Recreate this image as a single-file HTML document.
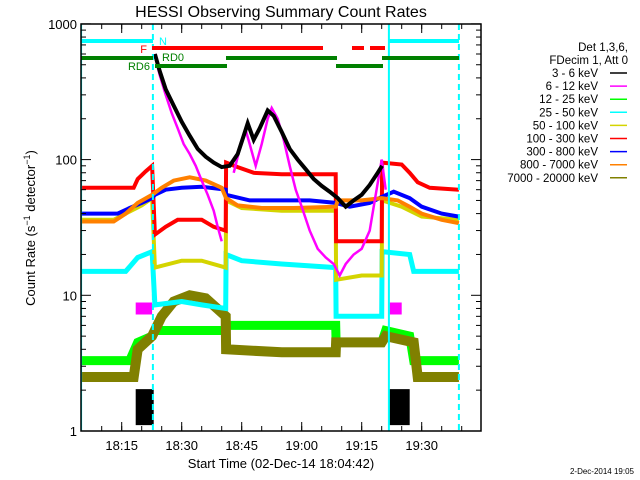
<!DOCTYPE html>
<html><head><meta charset="utf-8"><style>
body{margin:0;background:#fff;}
svg{display:block;font-family:"Liberation Sans",sans-serif;}
</style></head><body>
<svg id="chart" width="640" height="480" viewBox="0 0 640 480" xmlns="http://www.w3.org/2000/svg">
<text x="281" y="17" font-size="16" text-anchor="middle">HESSI Observing Summary Count Rates</text>
<text transform="translate(35,228) rotate(-90)" font-size="13" text-anchor="middle">Count Rate (s<tspan font-size="9" dy="-5">−1</tspan><tspan dy="5"> detector</tspan><tspan font-size="9" dy="-5">−1</tspan><tspan dy="5">)</tspan></text>
<text x="281" y="468" font-size="13" text-anchor="middle">Start Time (02-Dec-14 18:04:42)</text>
<text x="634" y="474" font-size="8" text-anchor="end">2-Dec-2014 19:05</text>
<g id="series"></g>
<g id="axes"></g>
<g id="legend"></g>
</svg>
<script>
const NS="http://www.w3.org/2000/svg";
// ---- data (minutes after 18:00, counts) ----
const seriesNames=["3 - 6 keV","6 - 12 keV","12 - 25 keV","25 - 50 keV","50 - 100 keV","100 - 300 keV","300 - 800 keV","800 - 7000 keV","7000 - 20000 keV"];
const blackLowT=[18.5,23,null,81.8,87];
const blackLowV=[1.5,1.5,null,1.5,1.5];
const blackT=[23.3,24.5,26,28,30,32,34,36,38,40,42,44,45.5,46.5,48,49.5,51.5,53,55,57,59,61,63,65,67,69,71,73,75,77,79,80.1];
const blackV=[600,450,330,250,190,150,120,105,95,88,90,110,150,185,140,170,230,210,160,120,100,85,72,64,58,52,45,50,55,65,80,90];
const magLowT=[18.5,22.6,null,82,85];
const magLowV=[8,8,null,8,8];
const magT=[23.2,24.5,26,27.5,29,30.5,32,33.5,35,36.5,38,39,40,null,43,44.5,46,47,48.5,50,51.5,52.5,54,55.5,57,58.5,60,62,64,66,68,69.5,71,73,75,77,78.5,80,81];
const magV=[600,420,300,220,170,130,110,90,70,55,42,32,25,null,80,120,165,130,90,130,200,240,200,140,90,60,45,30,22,19,17,14,17,20,22,30,55,100,60];
const greenT=[4.8,17,19,22.6,23.3,41,41.1,68.5,68.6,80,81,87,88,99.3];
const greenV=[3.3,3.3,4.5,5,5.5,5.5,6,6,4.5,4.5,5.5,5,3.3,3.3];
const cyanT=[4.8,16,19,22.6,23.3,30,35,41,41.1,45,55,68.5,68.6,80,80.1,87,88,99.3];
const cyanV=[15,15,19,21,8.5,9,8.5,8,20,18,17,16,7,7,21,20,15,15];
const yellowT=[4.8,13,16,20,22.6,23.3,30,35,41,41.1,45,55,68.5,68.6,75,80,80.1,85,90,99.3];
const yellowV=[36,36,40,46,52,16,18,18,16,50,44,42,42,13,14,14,50,45,38,36];
const redT=[4.8,18,19,21,22.6,23.3,26,29,35,38,41,41.1,44,48,55,62,68.5,68.6,75,80,80.1,85,87,89,92,99.3];
const redV=[62,62,72,82,90,28,32,36,36,32,30,95,88,80,78,78,78,25,25,25,95,92,80,68,62,60];
const blueT=[4.8,14,17,20,22.6,23.3,26,30,35,41,41.1,47,55,62,68.5,72,77,80,83,87,90,95,99.3];
const blueV=[40,40,44,48,52,55,60,62,63,60,55,50,50,50,48,45,48,53,58,52,45,40,38];
const orangeT=[4.8,13,16,19,22.6,25,28,32,36,40,41.1,44,50,58,68.5,69,75,80,84,87,90,95,99.3];
const orangeV=[35,35,40,48,55,62,70,74,70,62,52,46,44,44,45,50,50,52,50,45,40,36,34];
const oliveT=[4.8,18,19,22.6,25,28,32,36,41,41.1,55,68.5,68.6,80,81,88,89,99.3];
const oliveV=[2.5,2.5,4,5,7,9,10,9.5,7,4,3.8,3.8,4.5,4.5,5,4.5,2.5,2.5];
const yTickVals=[1,10,100,1000];
const xTickLabels=["18:15","18:30","18:45","19:00","19:15","19:30"];
const xTickMins=[15,30,45,60,75,90];
// ---- scales ----
const X0=81,X1=481,Y0=24,Y1=431;
function xs(m){return 61.7+4*m;}
function ys(v){return Y1-135.7*Math.log10(v);}
function mk(tag,attrs,parent){const e=document.createElementNS(NS,tag);for(const k in attrs)e.setAttribute(k,attrs[k]);parent.appendChild(e);return e;}
const sg=document.getElementById('series');
const defs=mk('defs',{},sg);
const cp=mk('clipPath',{id:'clip'},defs);
mk('rect',{x:X0,y:Y0,width:X1-X0,height:Y1-Y0},cp);
const plotG=mk('g',{'clip-path':'url(#clip)'},sg);
function drawSeries(T,V,color,w,name){
  let d="",pen=false;
  for(let i=0;i<T.length;i++){
    if(T[i]===null){pen=false;continue;}
    d+=(pen?"L":"M")+xs(T[i]).toFixed(1)+" "+ys(V[i]).toFixed(1)+" ";pen=true;
  }
  const p=mk('path',{d:d,fill:'none',stroke:color,'stroke-width':w,'stroke-linejoin':'miter'},plotG);
  
  
}
drawSeries(greenT,greenV,'#00ff00',9,'series-12-25-kev');
drawSeries(oliveT,oliveV,'#808000',10,'series-7000-20000-kev');
drawSeries(cyanT,cyanV,'#00ffff',5,'series-25-50-kev');
drawSeries(yellowT,yellowV,'#d4d400',4,'series-50-100-kev');
drawSeries(redT,redV,'#ff0000',4,'series-100-300-kev');
drawSeries(blueT,blueV,'#0000ff',4,'series-300-800-kev');
drawSeries(orangeT,orangeV,'#ff8000',4,'series-800-7000-kev');
drawSeries(magLowT,magLowV,'#ff00ff',12,'series-6-12-kev-low');
drawSeries(magT,magV,'#ff00ff',2.5,'series-6-12-kev');
drawSeries(blackLowT,blackLowV,'#000000',36,'series-3-6-kev-low');
drawSeries(blackT,blackV,'#000000',4,'series-3-6-kev');
// markers
function vline(m,color,dash,name){const l=mk('line',{x1:xs(m),x2:xs(m),y1:Y0,y2:Y1,stroke:color,'stroke-width':2},plotG);if(dash)l.setAttribute('stroke-dasharray',dash);

}
vline(4.85,'#00ffff',null,'night-start-line');
vline(81.8,'#00ffff',null,'night-start-line-2');
vline(22.8,'#00ffff','6,4','night-end-line');
vline(99.3,'#00ffff','6,4','night-end-line-2');
function hbar(x1,x2,y,color,name){const l=mk('line',{x1:x1,x2:x2,y1:y,y2:y,stroke:color,'stroke-width':4},sg);

}
hbar(81,153,41,'#00ffff','night-bar');hbar(389,459,41,'#00ffff','night-bar-2');
hbar(152,323,48,'#ff0000','flare-bar');hbar(352,364,48,'#ff0000','flare-bar-2');hbar(370,385,48,'#ff0000','flare-bar-3');
hbar(81,153,58,'#008000','rd0-bar');hbar(226,337,58,'#008000','rd0-bar-2');hbar(382,459,58,'#008000','rd0-bar-3');
hbar(155,227,66,'#008000','rd6-bar');hbar(336,383,66,'#008000','rd6-bar-2');
function lbl(x,y,t,c,name,anchor){const e=mk('text',{x:x,y:y,fill:c,'font-size':11,'text-anchor':anchor||'start'},sg);e.textContent=t;

}
lbl(159,45,'N','#00ffff','night-label');lbl(147,53,'F','#ff0000','flare-label','end');
lbl(162,61,'RD0','#008000','rd0-label');lbl(150,70,'RD6','#008000','rd6-label','end');
// axes
const ag=document.getElementById('axes');
const fr=mk('rect',{x:X0,y:Y0,width:X1-X0,height:Y1-Y0,fill:'none',stroke:'#000','stroke-width':1.5},ag);


for(let dec=0;dec<3;dec++){for(let k=2;k<10;k++){const y=ys(k*Math.pow(10,dec));
mk('line',{x1:X0,x2:X0+5,y1:y,y2:y,stroke:'#000'},ag);mk('line',{x1:X1,x2:X1-5,y1:y,y2:y,stroke:'#000'},ag);}}
yTickVals.forEach(v=>{const y=ys(v);
mk('line',{x1:X0,x2:X0+10,y1:y,y2:y,stroke:'#000'},ag);mk('line',{x1:X1,x2:X1-10,y1:y,y2:y,stroke:'#000'},ag);
const t=mk('text',{x:X0-4,y:y+5,'font-size':13,'text-anchor':'end'},ag);t.textContent=String(v);

});
for(let m=10;m<=100;m+=5){const x=xs(m);mk('line',{x1:x,x2:x,y1:Y1,y2:Y1-5,stroke:'#000'},ag);mk('line',{x1:x,x2:x,y1:Y0,y2:Y0+5,stroke:'#000'},ag);}
xTickMins.forEach((m,i)=>{const x=xs(m);
mk('line',{x1:x,x2:x,y1:Y1,y2:Y1-9,stroke:'#000'},ag);mk('line',{x1:x,x2:x,y1:Y0,y2:Y0+9,stroke:'#000'},ag);
const t=mk('text',{x:x,y:Y1+19,'font-size':13,'text-anchor':'middle'},ag);t.textContent=xTickLabels[i];

});
// legend
const lg=document.getElementById('legend');
const colors=['#000000','#ff00ff','#00ff00','#00ffff','#d4d400','#ff0000','#0000ff','#ff8000','#808000'];
function ltext(y,t,x){const e=mk('text',{x:x,y:y,'font-size':11.5,'text-anchor':'end'},lg);e.textContent=t;return e;}
let h=ltext(51,'Det 1,3,6,',628);
h=ltext(64,'FDecim 1, Att 0',628);
seriesNames.forEach((n,i)=>{const y=73+13.1*i;
const t=ltext(y+4,n,598);


mk('line',{x1:610,x2:627,y1:y,y2:y,stroke:colors[i],'stroke-width':1.5},lg);});
</script>
</body></html>
